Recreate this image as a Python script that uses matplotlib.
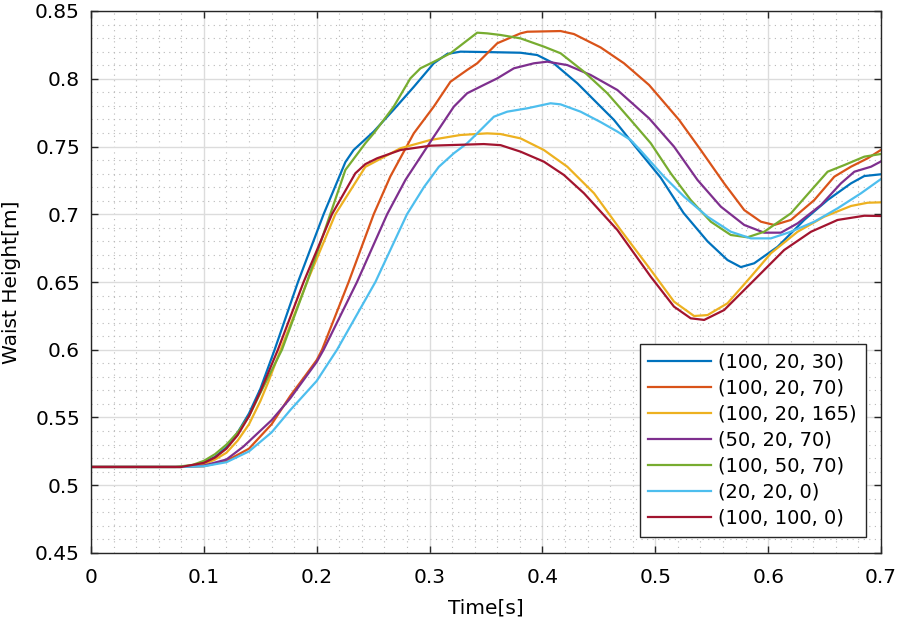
# Waist height over time for several (a, b, c) parameter sets
import matplotlib
matplotlib.use('Agg')
import matplotlib.pyplot as plt
from matplotlib.ticker import MultipleLocator, FuncFormatter

labels = ['(100, 20, 30)', '(100, 20, 70)', '(100, 20, 165)', '(50, 20, 70)',
          '(100, 50, 70)', '(20, 20, 0)', '(100, 100, 0)']

# MATLAB default line colours
colors = ['#0072BD', '#D95319', '#EDB120', '#7E2F8E', '#77AC30', '#4DBEEE', '#A2142F']

# (100, 20, 30)
t_1 = [0, 0.08, 0.09, 0.1, 0.11, 0.12, 0.13, 0.14, 0.15, 0.1627, 0.1834, 0.2061, 0.2254,
       0.2327, 0.2505, 0.268, 0.286, 0.3037, 0.3156, 0.3274, 0.35, 0.3806, 0.3954, 0.41,
       0.431, 0.4516, 0.4634, 0.4842, 0.5048, 0.525, 0.5463, 0.564, 0.5758, 0.5876, 0.6084,
       0.632, 0.6527, 0.6734, 0.6852, 0.7]
y_1 = [0.5135, 0.5135, 0.5145, 0.517, 0.521, 0.528, 0.539, 0.553, 0.571, 0.6, 0.65, 0.7, 0.7385,
       0.7474, 0.761, 0.777, 0.794, 0.8114, 0.8183, 0.82, 0.8197, 0.8192, 0.8175, 0.8114,
       0.7966, 0.7794, 0.7696, 0.748, 0.727, 0.701, 0.68, 0.6662, 0.661, 0.6638, 0.676,
       0.6958, 0.7105, 0.7228, 0.7282, 0.7295]

# (100, 20, 70)
t_2 = [0, 0.08, 0.1, 0.12, 0.14, 0.16, 0.1766, 0.19, 0.2, 0.2047, 0.2283, 0.2505, 0.2653,
       0.286, 0.3037, 0.3185, 0.3333, 0.3422, 0.36, 0.3806, 0.3866, 0.4161, 0.4279, 0.4516,
       0.4723, 0.4945, 0.5211, 0.5403, 0.561, 0.5788, 0.5936, 0.6054, 0.6202, 0.6409, 0.6586,
       0.6734, 0.6882, 0.7]
y_2 = [0.5135, 0.5135, 0.514, 0.518, 0.527, 0.545, 0.566, 0.581, 0.5924, 0.6, 0.65, 0.7, 0.728,
       0.7597, 0.7794, 0.7978, 0.8065, 0.8114, 0.8262, 0.8335, 0.8347, 0.8352, 0.833, 0.8231,
       0.8114, 0.7954, 0.7696, 0.7474, 0.7228, 0.7031, 0.6945, 0.6921, 0.6958, 0.7105, 0.7277,
       0.7351, 0.7413, 0.7475]

# (100, 20, 165)
t_3 = [0, 0.08, 0.1, 0.11, 0.12, 0.13, 0.14, 0.15, 0.157, 0.168, 0.1914, 0.2165, 0.2431,
       0.2742, 0.3008, 0.3274, 0.351, 0.3629, 0.3806, 0.4013, 0.422, 0.4457, 0.4693, 0.496,
       0.5166, 0.5344, 0.5463, 0.564, 0.5847, 0.6024, 0.6261, 0.6497, 0.6734, 0.6882, 0.7]
y_3 = [0.5135, 0.5135, 0.5155, 0.519, 0.524, 0.533, 0.545, 0.562, 0.576, 0.6, 0.65, 0.7, 0.735,
       0.7487, 0.7548, 0.7585, 0.7597, 0.7592, 0.756, 0.7474, 0.7351, 0.7155, 0.6884, 0.6589,
       0.6355, 0.6249, 0.6256, 0.6343, 0.6539, 0.6712, 0.6871, 0.6982, 0.7061, 0.7085, 0.7088]

# (50, 20, 70)
t_4 = [0, 0.08, 0.1, 0.12, 0.135, 0.16, 0.1766, 0.2, 0.2061, 0.2357, 0.2624, 0.2786, 0.3037,
       0.3215, 0.3333, 0.348, 0.36, 0.3747, 0.3924, 0.4043, 0.422, 0.4427, 0.4664, 0.4945,
       0.5166, 0.5374, 0.5581, 0.5788, 0.5965, 0.6113, 0.6261, 0.6468, 0.6645, 0.6764, 0.6912, 0.7]
y_4 = [0.5135, 0.5135, 0.5145, 0.519, 0.5285, 0.548, 0.5642, 0.591, 0.6, 0.65, 0.7, 0.7253, 0.7572,
       0.7794, 0.7893, 0.7954, 0.8003, 0.8077, 0.8114, 0.8126, 0.8101, 0.8028, 0.7917, 0.7708,
       0.7499, 0.7253, 0.7056, 0.6921, 0.6864, 0.6864, 0.6933, 0.7068, 0.7228, 0.7314, 0.7351, 0.739]

# (100, 50, 70)
t_5 = [0, 0.075, 0.09, 0.1, 0.11, 0.12, 0.13, 0.14, 0.15, 0.1692, 0.1914, 0.212, 0.2254, 0.2431,
       0.2505, 0.2682, 0.283, 0.2919, 0.3037, 0.3185, 0.3422, 0.351, 0.3629, 0.3806, 0.4013,
       0.4161, 0.4368, 0.4575, 0.4782, 0.496, 0.5137, 0.5314, 0.5492, 0.5669, 0.5817, 0.5965,
       0.6202, 0.6409, 0.6527, 0.6675, 0.6852, 0.7]
y_5 = [0.5135, 0.5135, 0.515, 0.518, 0.523, 0.53, 0.539, 0.551, 0.568, 0.6, 0.65, 0.7, 0.7327, 0.7524,
       0.7597, 0.7794, 0.8003, 0.8077, 0.8125, 0.8188, 0.834, 0.8335, 0.8323, 0.8298, 0.8237,
       0.8188, 0.8052, 0.7893, 0.7696, 0.7524, 0.7302, 0.7105, 0.6945, 0.6847, 0.683, 0.6871,
       0.7007, 0.7203, 0.7314, 0.7363, 0.7425, 0.7445]

# (20, 20, 0)
t_6 = [0, 0.08, 0.1, 0.12, 0.14, 0.16, 0.1766, 0.2, 0.218, 0.252, 0.28, 0.295, 0.3082, 0.3215,
       0.3333, 0.3422, 0.357, 0.3688, 0.3866, 0.4072, 0.4161, 0.4338, 0.4516, 0.4664, 0.4782,
       0.487, 0.5078, 0.5255, 0.5463, 0.5669, 0.5847, 0.6024, 0.6202, 0.6409, 0.6616, 0.6823, 0.7]
y_6 = [0.5135, 0.5135, 0.514, 0.517, 0.525, 0.539, 0.5555, 0.577, 0.6, 0.65, 0.7, 0.72, 0.735, 0.745,
       0.7524, 0.7597, 0.772, 0.7757, 0.7782, 0.7819, 0.7811, 0.7757, 0.768, 0.761, 0.7548,
       0.747, 0.7277, 0.713, 0.6982, 0.6871, 0.6822, 0.6822, 0.6871, 0.6945, 0.7044, 0.7155, 0.726]

# (100, 100, 0)
t_7 = [0, 0.08, 0.1, 0.11, 0.12, 0.13, 0.14, 0.15, 0.1656, 0.1884, 0.2135, 0.2342, 0.2431,
       0.2535, 0.2742, 0.3008, 0.348, 0.3629, 0.3806, 0.4013, 0.419, 0.4368, 0.4664, 0.496,
       0.5166, 0.5314, 0.5433, 0.561, 0.5847, 0.6142, 0.638, 0.6616, 0.6852, 0.7]
y_7 = [0.5135, 0.5135, 0.5165, 0.5205, 0.527, 0.537, 0.551, 0.569, 0.6, 0.65, 0.7, 0.7302, 0.737,
       0.7413, 0.7474, 0.7506, 0.7518, 0.751, 0.7462, 0.7388, 0.729, 0.7155, 0.6884, 0.6539,
       0.6318, 0.6232, 0.622, 0.6293, 0.649, 0.6736, 0.6871, 0.6958, 0.6989, 0.6987]

times = [t_1, t_2, t_3, t_4, t_5, t_6, t_7]
heights = [y_1, y_2, y_3, y_4, y_5, y_6, y_7]

plt.rcParams['font.family'] = ['DejaVu Sans']
axis_col = '#262626'

fig = plt.figure(figsize=(8.98, 6.2), dpi=100)
ax = fig.add_axes([91 / 898, 1 - 553 / 620, 790 / 898, 542 / 620])

for t, y, c, lab in zip(times, heights, colors, labels):
    ax.plot(t, y, color=c, linewidth=1.6, label=lab)

ax.set_xlim(0, 0.7)
ax.set_ylim(0.45, 0.85)
ax.xaxis.set_major_locator(MultipleLocator(0.1))
ax.yaxis.set_major_locator(MultipleLocator(0.05))
ax.xaxis.set_minor_locator(MultipleLocator(0.02))
ax.yaxis.set_minor_locator(MultipleLocator(0.01))
fmt = FuncFormatter(lambda v, p: f'{v:g}' if abs(v) > 1e-9 else '0')
ax.xaxis.set_major_formatter(fmt)
ax.yaxis.set_major_formatter(fmt)

ax.grid(which='major', color='#dcdcdc', linewidth=1.0)
ax.grid(which='minor', color='#b8b8b8', linewidth=0.8, linestyle=(0, (1, 4)))
ax.set_axisbelow(True)

ax.tick_params(which='major', direction='in', top=True, right=True, length=5,
               width=1.0, color=axis_col, labelsize=14.5, labelcolor='black')
ax.tick_params(axis='x', which='major', pad=11)
ax.tick_params(axis='y', which='major', pad=8)
ax.tick_params(which='minor', length=0)
for s in ax.spines.values():
    s.set_color(axis_col)
    s.set_linewidth(1.0)

ax.set_xlabel('Time[s]', fontsize=14.5, labelpad=8)
ax.set_ylabel('Waist Height[m]', fontsize=14.5, labelpad=10)

leg = ax.legend(loc='lower right', bbox_to_anchor=(0.9806, 0.030), borderaxespad=0,
                fontsize=14, frameon=True, fancybox=False, framealpha=1,
                edgecolor=axis_col, handlelength=3.2, handletextpad=0.4,
                labelspacing=0.36, borderpad=0.45)
leg.get_frame().set_linewidth(1.0)

fig.savefig('out.png', dpi=100)
